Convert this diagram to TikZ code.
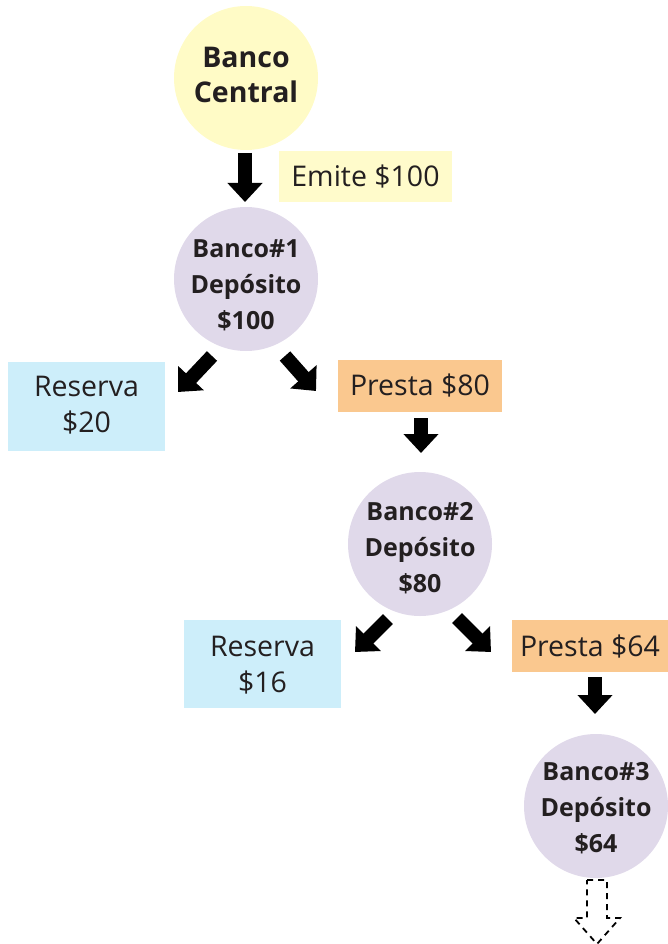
\documentclass[tikz,border=0pt]{standalone}
\usepackage{fontspec}
\setmainfont{Open Sans}
\usetikzlibrary{arrows.meta}
\definecolor{cyellow}{HTML}{FFFBC6}
\definecolor{byellow}{HTML}{FFFBCB}
\definecolor{lav}{HTML}{E0D9EA}
\definecolor{lblue}{HTML}{CDEEFA}
\definecolor{orng}{HTML}{FAC88F}
\definecolor{txt}{HTML}{231F20}
\tikzset{
  bank/.style={circle, fill=lav, minimum size=144pt, inner sep=0pt},
  banktext/.style={inner sep=0pt, align=center, text=txt,
    font=\fontsize{25}{36}\selectfont\bfseries},
  central/.style={circle, fill=cyellow, minimum size=144pt, inner sep=0pt},
  centraltext/.style={inner sep=0pt, align=center, text=txt,
    font=\fontsize{28.5}{35}\selectfont\bfseries},
  lbl/.style={inner sep=0pt, align=center, text=txt, font=\fontsize{28.5}{36}\selectfont},
  blk/.style={line width=14pt, -{Triangle[width=34pt,length=19pt]}},
}
\begin{document}
\begin{tikzpicture}[x=1pt,y=-1pt]
\useasboundingbox (0,0) rectangle (668,944);
% boxes
\fill[byellow] (279,151) rectangle (452,202);
\node[lbl] (emite) at (365.5,177) {Emite \$100};
\fill[lblue] (8,362) rectangle (165,451);
\node[lbl] (res1) at (86.5,405) {Reserva\\\$20};
\fill[orng] (338,360) rectangle (502,412);
\node[lbl] (pres1) at (420,386) {Presta \$80};
\fill[lblue] (184,620) rectangle (341,708);
\node[lbl] (res2) at (262.5,665) {Reserva\\\$16};
\fill[orng] (512,620) rectangle (668,672);
\node[lbl] (pres2) at (590,647) {Presta \$64};
% circles
\node[central] (bc) at (246,78) {};
\node[centraltext] (bct) at (246,75) {Banco\\Central};
\node[bank] (b1) at (246,279) {};
\node[banktext] (b1t) at (246,285) {Banco\#1\\Depósito\\\$100};
\node[bank] (b2) at (420,544) {};
\node[banktext] (b2t) at (420,548) {Banco\#2\\Depósito\\\$80};
\node[bank] (b3) at (596,806) {};
\node[banktext] (b3t) at (596,808) {Banco\#3\\Depósito\\\$64};
% arrow end coordinates
\coordinate (a1s) at (245,153); \coordinate (a1e) at (245,202);
\coordinate (a2s) at (212,356); \coordinate (a2e) at (178,392);
\coordinate (a3s) at (285,356); \coordinate (a3e) at (316,391);
\coordinate (a4s) at (421,418); \coordinate (a4e) at (421,453);
\coordinate (a5s) at (388,619); \coordinate (a5e) at (355,652);
\coordinate (a6s) at (457,618); \coordinate (a6e) at (491,652);
\coordinate (a7s) at (595,677); \coordinate (a7e) at (595,714);
\draw[blk] (a1s) -- (a1e);
\draw[blk] (a2s) -- (a2e);
\draw[blk] (a3s) -- (a3e);
\draw[blk] (a4s) -- (a4e);
\draw[blk] (a5s) -- (a5e);
\draw[blk] (a6s) -- (a6e);
\draw[blk] (a7s) -- (a7e);
% dashed arrow
\draw[line width=1.8pt, dash pattern=on 6pt off 5pt, black]
  (587,880) -- (607,880) -- (607,918) -- (620,918) -- (597,944) -- (574,918) -- (587,918) -- cycle;
\end{tikzpicture}
\end{document}
